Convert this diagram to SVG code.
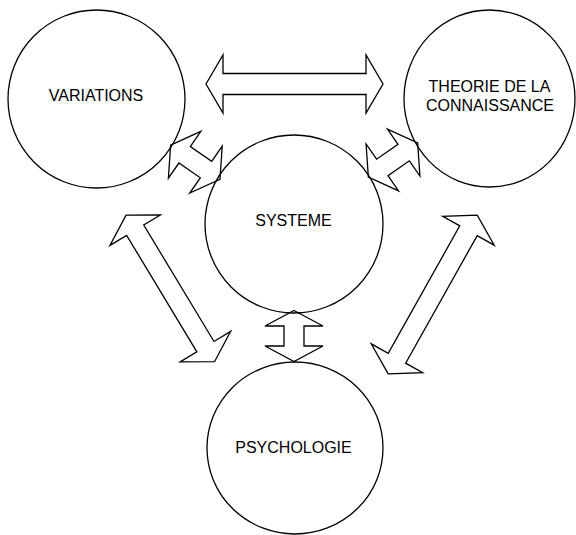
<svg xmlns="http://www.w3.org/2000/svg" width="576" height="535" viewBox="0 0 576 535">
<style>
.node{fill:none;stroke:#000;stroke-width:1.3}
.arr{fill:none;stroke:#000;stroke-width:1.3;stroke-linejoin:miter}
.lbl{font-family:"Liberation Sans",Arial,sans-serif;font-size:16px;fill:#000;text-anchor:middle}
</style>
<rect width="576" height="535" fill="#fff"/>
<g id="variations">
<ellipse class="node" cx="96.5" cy="99" rx="88.5" ry="89"/>
<text class="lbl" x="96" y="101">VARIATIONS</text>
</g>
<g id="theorie">
<ellipse class="node" cx="489.5" cy="98.5" rx="85.5" ry="88.5"/>
<text class="lbl" x="489.5" y="92">THEORIE DE LA</text>
<text class="lbl" x="490" y="111">CONNAISSANCE</text>
</g>
<g id="systeme">
<ellipse class="node" cx="294" cy="224" rx="89" ry="89"/>
<text class="lbl" x="293.5" y="226">SYSTEME</text>
</g>
<g id="psychologie">
<ellipse class="node" cx="295" cy="448" rx="88" ry="86"/>
<text class="lbl" x="293.5" y="453">PSYCHOLOGIE</text>
</g>
<g id="connectors">
<polygon class="arr" transform="translate(294.5,84)" points="-88.5,0 -71.5,-29 -71.5,-10.5 71.5,-10.5 71.5,-29 88.5,0 71.5,29 71.5,10.5 -71.5,10.5 -71.5,29"/>
<polygon class="arr" transform="translate(195.3,162.2) rotate(34.7)" points="-30,0 -13,-28.5 -13,-10 13,-10 13,-28.5 30,0 13,28.5 13,10 -13,10 -13,28.5"/>
<polygon class="arr" transform="translate(393,160) rotate(-34.7)" points="-30,0 -13,-28.5 -13,-10 13,-10 13,-28.5 30,0 13,28.5 13,10 -13,10 -13,28.5"/>
<polygon class="arr" transform="translate(170.3,288.4) rotate(58.9)" points="-85.6,0 -68,-29.5 -68,-10 68,-10 68,-29.5 85.6,0 68,29.5 68,10 -68,10 -68,29.5"/>
<polygon class="arr" transform="translate(432.7,294.5) rotate(-60.7)" points="-91,0 -73.1,-29.5 -73.1,-10 73.1,-10 73.1,-29.5 91,0 73.1,29.5 73.1,10 -73.1,10 -73.1,29.5"/>
<polygon class="arr" transform="translate(294,336) rotate(90)" points="-25.5,0 -10,-29 -10,-10 10,-10 10,-29 25.5,0 10,29 10,10 -10,10 -10,29"/>
</g>
</svg>
